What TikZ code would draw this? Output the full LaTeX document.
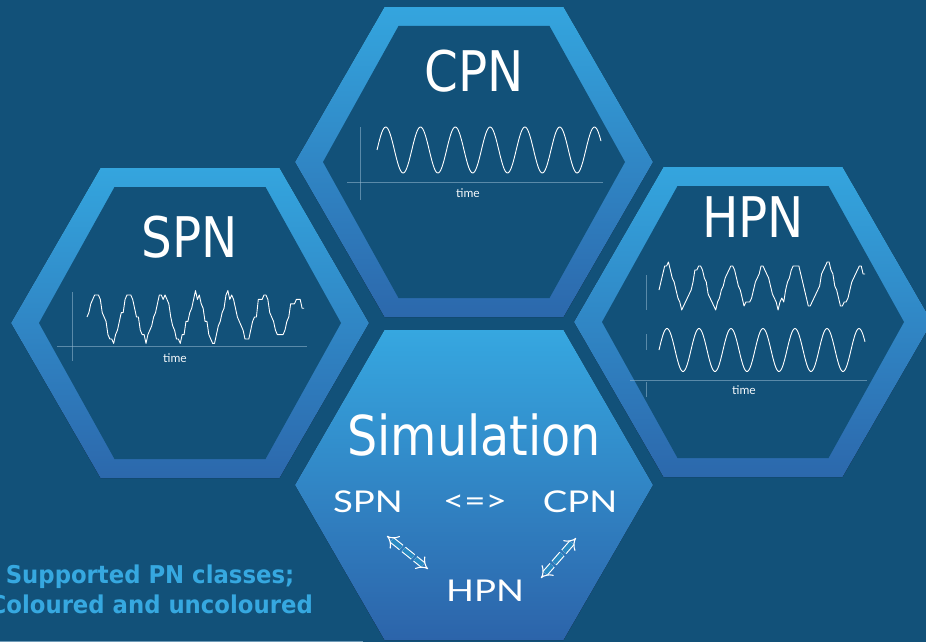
\documentclass[tikz,border=0pt]{standalone}
\usepackage{fontspec}
\usetikzlibrary{arrows.meta}

\newfontfamily\titlefont[FakeStretch=0.865]{DejaVu Sans}
\newfontfamily\notefont[FakeStretch=0.93]{DejaVu Sans}
\newfontfamily\handfont{Lato}
\newfontfamily\sketchfont[FakeStretch=1.22]{Lato}

\definecolor{bg}{RGB}{18,81,121}
\definecolor{ringtop}{RGB}{52,165,222}
\definecolor{ringmid}{RGB}{41,137,193}
\definecolor{ringbot}{RGB}{44,104,172}
\definecolor{simtop}{RGB}{54,167,224}
\definecolor{simbot}{RGB}{44,100,170}
\definecolor{axisc}{RGB}{150,185,210}
\definecolor{notec}{RGB}{54,168,224}

% flat-topped hexagon: centre (#1,#2), half width #3, half height #4
\newcommand{\hexat}[4]{({#1-#3},{#2}) -- ({#1-#3/2},{#2-#4}) -- ({#1+#3/2},{#2-#4}) -- ({#1+#3},{#2}) -- ({#1+#3/2},{#2+#4}) -- ({#1-#3/2},{#2+#4}) -- cycle}
% hexagonal frame with a shaded rim
\newcommand{\hexring}[2]{%
  \fill[top color=ringtop, middle color=ringmid, bottom color=ringbot] \hexat{#1}{#2}{179}{155};
  \fill[bg] \hexat{#1}{#2}{151}{136};}

\tikzset{
  title/.style={font=\titlefont\fontsize{56}{60}\selectfont, text=white, inner sep=0pt, anchor=base},
  hand/.style={font=\sketchfont\fontsize{30}{32}\selectfont, text=white, inner sep=0pt},
  timelabel/.style={font=\handfont\fontsize{12}{12}\selectfont, text=white!88!axisc, inner sep=0pt},
  note/.style={font=\notefont\bfseries\fontsize{24.5}{30}\selectfont, text=notec, inner sep=0pt},
  wave/.style={draw=white, line width=0.9pt, line join=round},
  axisline/.style={draw=axisc, opacity=0.55, line width=0.8pt},
  dblarrow/.style={draw=white, line width=1.1pt, double=ringmid, double distance=4.5pt,
    {Implies[scale=1.5]}-{Implies[scale=1.5]}, dash pattern=on 12pt off 3pt},
}

\begin{document}
\begin{tikzpicture}[x=1pt, y=-1pt]
\useasboundingbox (0,0) rectangle (926,642);
\clip (0,0) rectangle (926,642);
\fill[bg] (0,0) rectangle (926,642);

% the three frames
\hexring{474}{162}
\hexring{190}{323}
\hexring{753}{322}

% simulation tile
\fill[top color=simtop, middle color=ringmid, bottom color=simbot] \hexat{474}{485}{179}{155};

% titles
\node[title] (cpn) at (474,91) {CPN};
\node[title] (spn) at (190,257) {SPN};
\node[title] (hpn) at (753,237) {HPN};
\node[title, font=\titlefont\fontsize{55}{60}\selectfont] (sim) at (474,455) {Simulation};

% CPN plot: deterministic sine
\draw[axisline] (347,182) -- (603,182);
\draw[axisline] (360,127) -- (360,200);
\draw[wave] plot[domain=377:601, samples=240, smooth] (\x,{150-23*sin((\x-377)/34.8*360)});
\node[timelabel] (tcpn) at (468,193) {time};

% SPN plot: stochastic trace
\draw[axisline] (57,346) -- (307,346);
\draw[axisline] (72,292) -- (72,361);
\pgfmathsetseed{11}
\draw[wave] plot[domain=87:304, samples=115] (\x,{317-22*(round(5*(sin((\x-87)/33.6*360)+0.2*rand))/5)});
\node[timelabel] (tspn) at (175,358) {time};

% HPN plot: stochastic and continuous traces
\draw[axisline] (630,380) -- (867,380);
\draw[axisline] (646,275) -- (646,310);
\draw[axisline] (646,334) -- (646,350);
\draw[axisline] (646,382) -- (646,397);
\pgfmathsetseed{23}
\draw[wave] plot[domain=659:865, samples=110] (\x,{286-20*(round(5*(sin((\x-659)/32*360)+0.2*rand))/5)});
\draw[wave] plot[domain=659:865, samples=220, smooth] (\x,{350-21.5*sin((\x-659)/32*360)});
\node[timelabel] (thpn) at (744,390) {time};

% conversions between the classes
\node[hand] (sspn) at (368,502) {SPN};
\node[hand] (sconv) at (475,503) {<=>};
\node[hand] (scpn) at (580,502) {CPN};
\node[hand] (shpn) at (485,591) {HPN};
\coordinate (la1) at (387,536);
\coordinate (la2) at (428,569);
\coordinate (ra1) at (576,538);
\coordinate (ra2) at (541,578);
\draw[dblarrow] (la1) -- (la2);
\draw[dblarrow] (ra1) -- (ra2);

% caption
\node[note, anchor=base] (note1) at (150,583) {Supported PN classes;};
\node[note, anchor=base east] (note2) at (313,613) {Coloured and uncoloured};

\draw[draw=axisc, opacity=0.7, line width=0.7pt] (0,641) -- (363,641);
\end{tikzpicture}
\end{document}
